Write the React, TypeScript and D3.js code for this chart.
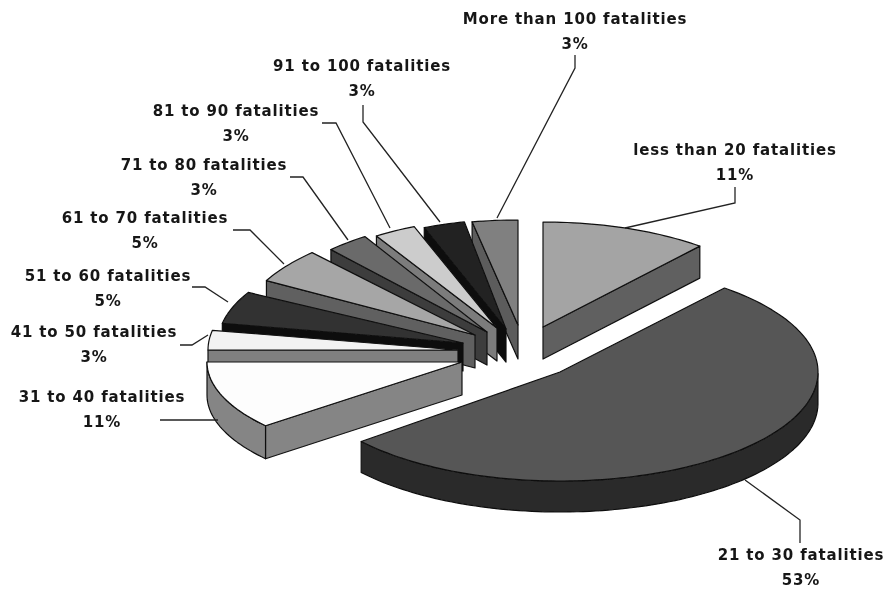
import React from "react";
import * as d3 from "d3";

const categories = [
  "less than 20 fatalities", "21 to 30 fatalities", "31 to 40 fatalities", "41 to 50 fatalities",
  "51 to 60 fatalities", "61 to 70 fatalities", "71 to 80 fatalities", "81 to 90 fatalities",
  "91 to 100 fatalities", "More than 100 fatalities",
];
const shares = [11, 53, 11, 3, 5, 5, 3, 3, 3, 3];
const topColors = ["#a4a4a4", "#565656", "#fdfdfd", "#f2f2f2", "#303030", "#a6a6a6", "#6a6a6a", "#cccccc", "#222222", "#808080"];
const wallColors = ["#606060", "#2a2a2a", "#858585", "#808080", "#0c0c0c", "#606060", "#3c3c3c", "#7c7c7c", "#0c0c0c", "#5c5c5c"];

// layout of the exploded, tilted pie
const apexX = [543, 560, 462, 458, 463, 475, 487, 497, 506, 518];
const apexY = [327, 372, 362, 350, 343, 335, 332, 328, 329, 325];
const radiusX = [246, 258, 255, 250, 245, 238, 228, 225, 222, 245];
const radiusY = [105, 109, 100, 105, 105, 113, 113, 109, 109, 105];
const depths = [32, 31, 33, 33, 28, 33, 33, 33, 33, 34];
const drawOrder = [0, 9, 8, 7, 6, 5, 4, 3, 2, 1];

const labelX = [735, 801, 102, 94, 108, 145, 204, 236, 362, 575];
const labelY = [155, 560, 402, 337, 281, 223, 170, 116, 71, 24];
const leaders: [number, number][][] = [
  [[735, 187], [735, 203], [625, 228]],
  [[800, 543], [800, 520], [745, 480]],
  [[160, 420], [218, 420]],
  [[180, 345], [192, 345], [208, 335]],
  [[192, 287], [205, 287], [228, 302]],
  [[233, 230], [250, 230], [284, 264]],
  [[290, 177], [303, 177], [348, 240]],
  [[322, 123], [336, 123], [390, 228]],
  [[363, 105], [363, 122], [440, 222]],
  [[575, 55], [575, 68], [497, 218]],
];

const arcs = d3.pie<number>().sort(null).value((d) => d).startAngle(0).endAngle(2 * Math.PI)(shares);
const line = d3.line();

export default function App() {
  const font = "'DejaVu Sans', sans-serif";
  return (
    <svg width={888} height={592} style={{ position: "absolute", left: 0, top: 0, background: "#fff" }}>
      <defs>
        <filter id="soft" x="-5%" y="-5%" width="110%" height="110%">
          <feGaussianBlur stdDeviation="0.55" />
        </filter>
      </defs>
      <g filter="url(#soft)">
        {drawOrder.map((i) => {
          const a = arcs[i];
          const cx = apexX[i], cy = apexY[i], rx = radiusX[i], ry = radiusY[i], dz = depths[i];
          const pt = (t: number, z = 0): [number, number] => [cx + rx * Math.sin(t), cy - ry * Math.cos(t) + z];
          const steps = Math.max(4, Math.ceil((a.endAngle - a.startAngle) * 40));
          const ts = d3.range(steps + 1).map((k) => a.startAngle + ((a.endAngle - a.startAngle) * k) / steps);
          const rim = ts.map((t) => pt(t));
          const frontTs = ts.filter((t) => Math.cos(t) <= 0);
          const frontRim = frontTs.map((t) => pt(t));
          const frontLow = frontTs.map((t) => pt(t, dz)).reverse();
          const apex: [number, number] = [cx, cy];
          const apexLow: [number, number] = [cx, cy + dz];
          const stroke = { stroke: "#111", strokeWidth: 1.2, strokeLinejoin: "round" as const };
          return (
            <g key={categories[i]}>
              {Math.sin(a.startAngle) < 0 && (
                <path d={line([apex, rim[0], pt(a.startAngle, dz), apexLow])! + "Z"} fill={wallColors[i]} {...stroke} />
              )}
              {Math.sin(a.endAngle) > 0 && (
                <path d={line([apex, rim[rim.length - 1], pt(a.endAngle, dz), apexLow])! + "Z"} fill={wallColors[i]} {...stroke} />
              )}
              {frontRim.length > 1 && (
                <path d={line([...frontRim, ...frontLow])! + "Z"} fill={wallColors[i]} {...stroke} />
              )}
              <path d={line([apex, ...rim])! + "Z"} fill={topColors[i]} {...stroke} />
            </g>
          );
        })}
        {leaders.map((pts, i) => (
          <path key={i} d={line(pts)!} fill="none" stroke="#222" strokeWidth={1.3} />
        ))}
        {categories.map((c, i) => (
          <text key={c} textAnchor="middle" fontFamily={font} fontWeight={700} fontSize={15} letterSpacing={0.85} fill="#151515">
            <tspan x={labelX[i]} y={labelY[i]}>{c}</tspan>
            <tspan x={labelX[i]} y={labelY[i] + 24.5}>{shares[i]}%</tspan>
          </text>
        ))}
      </g>
    </svg>
  );
}
